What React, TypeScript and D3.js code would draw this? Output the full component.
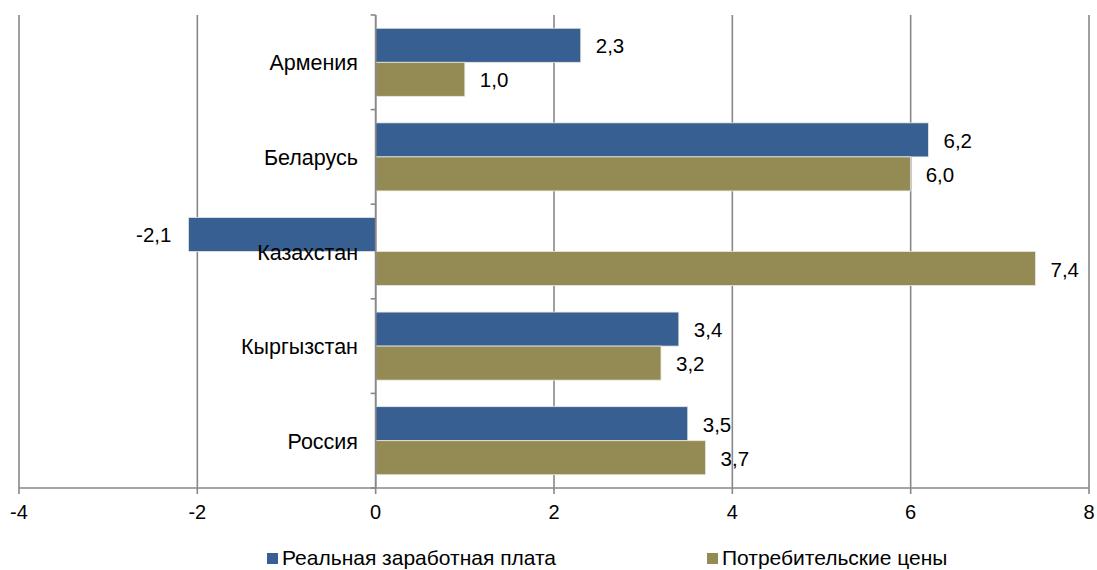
import React from "react";
import * as d3 from "d3";

const categories = ["Армения", "Беларусь", "Казахстан", "Кыргызстан", "Россия"];
const seriesNames = ["Реальная заработная плата", "Потребительские цены"];
const wages = [2.3, 6.2, -2.1, 3.4, 3.5];
const prices = [1.0, 6.0, 7.4, 3.2, 3.7];
const xTicks = [-4, -2, 0, 2, 4, 6, 8];
const colors = ["#375F92", "#948A54"];

const W = 1097;
const H = 570;
const FONT = "'Liberation Sans', Arial, sans-serif";

export default function App() {
  const x = d3.scaleLinear().domain([-4, 8]).range([19, 1089]);
  const y = d3.scaleBand<string>().domain(categories).range([15, 488]).paddingInner(0).paddingOuter(0);
  const inner = d3.scaleBand<number>().domain([0, 1]).range([0, y.bandwidth()]).paddingInner(0).paddingOuter(0.39);
  const series = [wages, prices];
  const fmt = (v: number) => v.toFixed(1).replace(".", ",");
  const axisY = y.range()[1];
  const boundaries = [...categories.map((c) => y(c) as number), axisY];

  return (
    <svg width={W} height={H} style={{ position: "absolute", left: 0, top: 0, display: "block" }} fontFamily={FONT}>
      <rect x={0} y={0} width={W} height={H} fill="#fff" />
      {/* grid lines */}
      {xTicks.map((t) => (
        <line key={"g" + t} x1={x(t)} x2={x(t)} y1={15} y2={axisY + 6} stroke="#888888" strokeWidth={1.6} />
      ))}
      {/* x axis */}
      <line x1={x(-4)} x2={x(8)} y1={axisY} y2={axisY} stroke="#888888" strokeWidth={1.6} />
      {xTicks.map((t) => (
        <text key={"t" + t} x={x(t)} y={axisY + 31} textAnchor="middle" fontSize={20} fill="#000">
          {t}
        </text>
      ))}
      {/* bars */}
      {categories.map((c, i) =>
        series.map((s, k) => {
          const v = s[i];
          const x0 = x(Math.min(0, v));
          const x1 = x(Math.max(0, v));
          return (
            <rect
              key={c + k}
              x={x0}
              y={(y(c) as number) + (inner(k) as number)}
              width={x1 - x0}
              height={inner.bandwidth()}
              fill={colors[k]}
              stroke="#e8e8e0"
              strokeWidth={0.8}
            />
          );
        })
      )}
      {/* y axis */}
      <line x1={x(0)} x2={x(0)} y1={15} y2={axisY} stroke="#888888" strokeWidth={1.6} />
      {boundaries.map((b, i) => (
        <line key={"yt" + i} x1={x(0) - 5} x2={x(0)} y1={b} y2={b} stroke="#888888" strokeWidth={1.6} />
      ))}
      {/* category labels */}
      {categories.map((c) => (
        <text key={"c" + c} x={358} y={(y(c) as number) + y.bandwidth() / 2 + 8} textAnchor="end" fontSize={21.5} fill="#000">
          {c}
        </text>
      ))}
      {/* value labels */}
      {categories.map((c, i) =>
        series.map((s, k) => {
          const v = s[i];
          const cy = (y(c) as number) + (inner(k) as number) + inner.bandwidth() / 2 + 8;
          return (
            <text
              key={"v" + c + k}
              x={v >= 0 ? x(v) + 15 : x(v) - 17}
              y={cy}
              textAnchor={v >= 0 ? "start" : "end"}
              fontSize={20.5}
              fill="#000"
            >
              {fmt(v)}
            </text>
          );
        })
      )}
      {/* legend */}
      {seriesNames.map((n, k) => {
        const lx = k === 0 ? 267 : 707;
        return (
          <g key={"l" + k}>
            <rect x={lx} y={553} width={11} height={11} fill={colors[k]} />
            <text x={lx + 15} y={565} fontSize={21} fill="#000">
              {n}
            </text>
          </g>
        );
      })}
    </svg>
  );
}
